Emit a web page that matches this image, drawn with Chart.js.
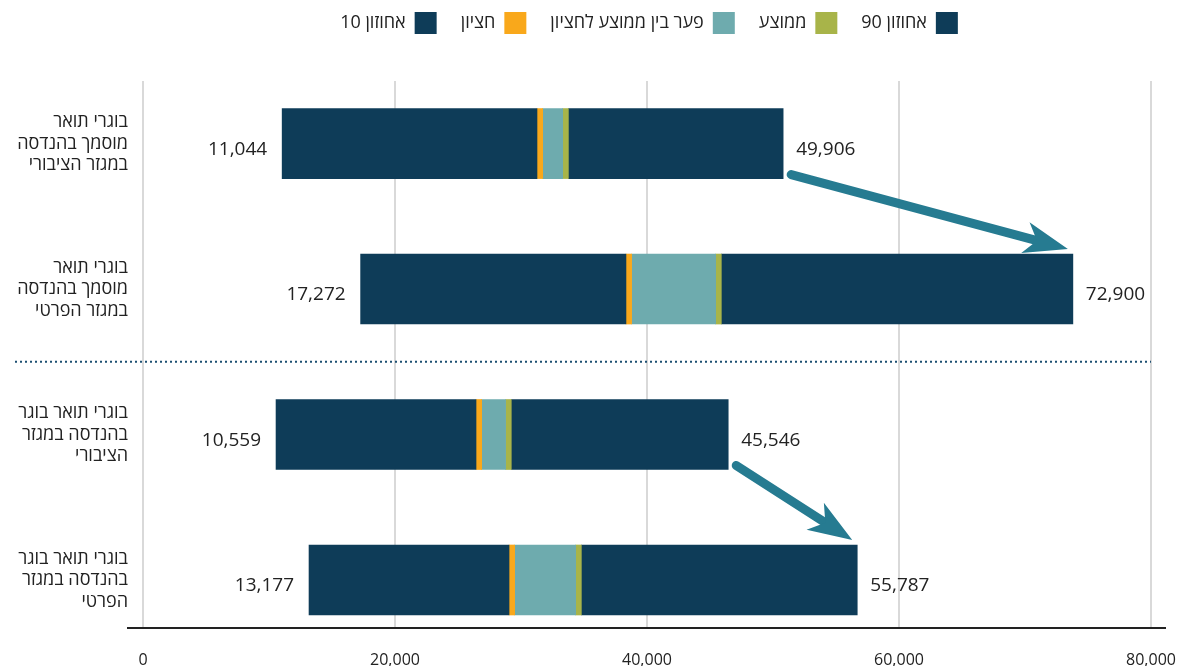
<!DOCTYPE html>
<html>
<head>
<meta charset="utf-8">
<script src="https://cdn.jsdelivr.net/npm/chart.js@4.4.1/dist/chart.umd.min.js"></script>
<style>
html,body{margin:0;padding:0;background:#ffffff;}
#wrap{width:1185px;height:666px;position:relative;}
</style>
</head>
<body>
<div id="wrap"><canvas id="c" width="1185" height="666"></canvas></div>
<script>
// ---- data ----
const categories = [
  ['בוגרי תואר', 'מוסמך בהנדסה', 'במגזר הציבורי'],
  ['בוגרי תואר', 'מוסמך בהנדסה', 'במגזר הפרטי'],
  ['בוגרי תואר בוגר', 'בהנדסה במגזר', 'הציבורי'],
  ['בוגרי תואר בוגר', 'בהנדסה במגזר', 'הפרטי']
];
const p10 = [11044, 17272, 10559, 13177];
const median = [31270, 38330, 26430, 29050];
const mean = [32860, 45000, 28330, 33890];
const p90 = [49906, 72900, 45546, 55787];
const markerWidth = 450;
const xTicks = [0, 20000, 40000, 60000, 80000];
const seriesLabels = ['אחוזון 10', 'חציון', 'פער בין ממוצע לחציון', 'ממוצע', 'אחוזון 90'];
const seriesColors = ['#0e3c58', '#f9a81b', '#6eabae', '#a8b449', '#0e3c58'];
const dividerAfter = 1;
const arrowPairs = [[0, 1], [2, 3]];

// ---- derived stack segments ----
const segments = [
  p10.map((v, i) => median[i] - v),
  p10.map(() => markerWidth),
  mean.map((v, i) => v - median[i]),
  p10.map(() => markerWidth),
  p90.map((v, i) => v - mean[i])
];

const FAMILY = "'Open Sans', 'DejaVu Sans', sans-serif";
Chart.defaults.font.family = FAMILY;
Chart.defaults.color = '#222';

const toPts = arr => arr.map((v, i) => ({ x: v, y: i }));

const datasets = [{
  label: '',
  data: toPts(p10),
  backgroundColor: 'rgba(0,0,0,0)',
  borderWidth: 0,
  barThickness: 70
}].concat(segments.map((seg, k) => ({
  label: seriesLabels[k],
  data: toPts(seg),
  backgroundColor: seriesColors[k],
  borderWidth: 0,
  barThickness: 70
})));

const LEGEND_PAD = 24;

const extras = {
  id: 'extras',
  afterLayout(chart) {
    const lg = chart.legend, xs = chart.scales.x;
    const target = (xs.getPixelForValue(xTicks[0]) + xs.getPixelForValue(xTicks[xTicks.length - 1])) / 2;
    const dx = target - (lg.left + lg.right) / 2 + 2;
    lg.left += dx; lg.right += dx;
    lg.top -= 37; lg.bottom -= 37;
  },
  afterDatasetsDraw(chart) {
    const ctx = chart.ctx, xs = chart.scales.x, ys = chart.scales.y;
    const last = chart.getDatasetMeta(datasets.length - 1).data;
    ctx.save();
    // value labels
    ctx.font = '19px ' + FAMILY;
    ctx.fillStyle = '#222';
    ctx.textBaseline = 'middle';
    p10.forEach((v, i) => {
      const y = ys.getPixelForValue(i) + 6;
      ctx.textAlign = 'right';
      ctx.fillText(v.toLocaleString('en-US'), xs.getPixelForValue(v) - 15, y);
      ctx.textAlign = 'left';
      ctx.fillText(p90[i].toLocaleString('en-US'), last[i].x + 13, y);
    });
    // dotted divider
    const yd = ys.getPixelForValue(dividerAfter + 0.5);
    ctx.setLineDash([2, 3]);
    ctx.strokeStyle = '#1d4f72';
    ctx.lineWidth = 2;
    ctx.beginPath();
    ctx.moveTo(ys.left, yd);
    ctx.lineTo(xs.getPixelForValue(xTicks[xTicks.length - 1]), yd);
    ctx.stroke();
    ctx.setLineDash([]);
    // arrows
    const col = '#267b91';
    arrowPairs.forEach(([a, b]) => {
      const A = last[a], B = last[b];
      const sx = A.x + 8, sy = A.y + A.height / 2 - 4;
      const tx = B.x - 5, ty = B.y - B.height / 2 - 5;
      const ang = Math.atan2(ty - sy, tx - sx);
      const c = Math.cos(ang), s = Math.sin(ang);
      const headLen = 44, headHalf = 16, notch = 32;
      ctx.strokeStyle = col;
      ctx.fillStyle = col;
      ctx.lineWidth = 9;
      ctx.lineCap = 'round';
      ctx.beginPath();
      ctx.moveTo(sx, sy);
      ctx.lineTo(tx - notch * c, ty - notch * s);
      ctx.stroke();
      const bx = tx - headLen * c, by = ty - headLen * s;
      ctx.beginPath();
      ctx.moveTo(tx, ty);
      ctx.lineTo(bx - headHalf * s, by + headHalf * c);
      ctx.lineTo(tx - notch * c, ty - notch * s);
      ctx.lineTo(bx + headHalf * s, by - headHalf * c);
      ctx.closePath();
      ctx.fill();
    });
    ctx.restore();
  }
};

function build() {
  new Chart(document.getElementById('c'), {
    type: 'bar',
    data: { datasets },
    options: {
      responsive: false,
      devicePixelRatio: 1,
      animation: false,
      indexAxis: 'y',
      layout: { padding: { left: 15, right: 20, top: 25, bottom: 0 } },
      scales: {
        x: {
          type: 'linear',
          stacked: true,
          min: -1190,
          max: 81112,
          afterBuildTicks: s => { s.ticks = xTicks.map(v => ({ value: v })); },
          afterFit: s => { s.height = 38; s.paddingLeft = 0; s.paddingRight = 0; },
          ticks: {
            callback: v => Number(v).toLocaleString('en-US'),
            font: { size: 16 },
            color: '#222',
            padding: 23,
            maxRotation: 0,
            autoSkip: false
          },
          grid: { color: '#d9d9d9', lineWidth: 2, drawTicks: false },
          border: { display: true, color: '#222', width: 2 }
        },
        y: {
          type: 'linear',
          stacked: true,
          reverse: true,
          offset: false,
          min: -0.43,
          max: 3.33,
          afterBuildTicks: s => { s.ticks = categories.map((c, i) => ({ value: i })); },
          afterFit: s => { s.width = 113; s.paddingTop = 0; s.paddingBottom = 0; },
          ticks: {
            callback: v => categories[v],
            font: { size: 18, lineHeight: 1.2 },
            color: '#222',
            padding: 0,
            autoSkip: false
          },
          grid: { display: false, drawTicks: false },
          border: { display: false }
        }
      },
      plugins: {
        tooltip: { enabled: false },
        legend: {
          position: 'top',
          rtl: true,
          textDirection: 'rtl',
          reverse: true,
          labels: {
            boxWidth: 22,
            boxHeight: 22,
            padding: LEGEND_PAD,
            color: '#222',
            font: { size: 18 },
            filter: item => item.text !== ''
          }
        }
      }
    },
    plugins: [extras]
  });
}

const loads = [
  document.fonts.load('16px "Open Sans"', 'אבג 0123'),
  document.fonts.load('16px "DejaVu Sans"', 'אבג')
];
Promise.all(loads).then(build, build);
</script>
</body>
</html>
